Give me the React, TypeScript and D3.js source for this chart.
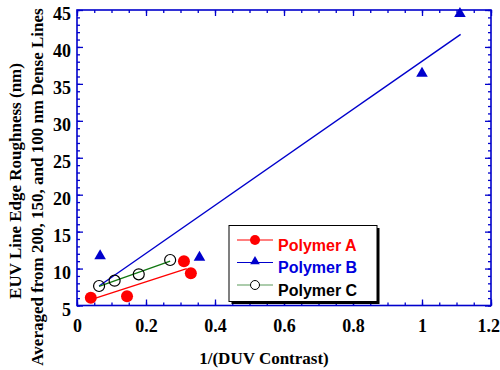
import React, { useRef, useEffect } from "react";
import * as d3 from "d3";

// values
const polymerAX = [0.04, 0.145, 0.31, 0.33];
const polymerAY = [6.06, 6.25, 11.0, 9.35];
const fitAX = [0.047, 0.318];
const fitAY = [5.9, 10.0];

const polymerBX = [0.067, 0.355, 1.0, 1.11];
const polymerBY = [11.7, 11.5, 36.4, 44.5];
const fitBX = [0.064, 1.112];
const fitBY = [7.64, 41.7];

const polymerCX = [0.064, 0.109, 0.179, 0.27];
const polymerCY = [7.64, 8.36, 9.22, 11.16];
const fitCX = [0.064, 0.27];
const fitCY = [7.6, 11.0];

const xTicks = [0, 0.2, 0.4, 0.6, 0.8, 1, 1.2];
const yTicks = [5, 10, 15, 20, 25, 30, 35, 40, 45];
const legendLabels = ["Polymer A", "Polymer B", "Polymer C"];

const AXIS_BLUE = "#0000cc";
const RED = "#ff0000";
const BLUE = "#0000cc";
const GREEN = "#117711";

const serif = "'Liberation Serif', 'Times New Roman', serif";
const sans = "'Liberation Sans', Arial, Helvetica, sans-serif";

const zip = (xs: number[], ys: number[]) => xs.map((x, i) => [x, ys[i]]);

const Chart = () => {
  const ref = useRef<SVGSVGElement>(null);

  useEffect(() => {
    const svg = d3.select(ref.current);
    svg.selectAll("*").remove();

    const W = 500;
    const H = 370;
    const left = 77;
    const right = 491;
    const top = 10;
    const bottom = 305.5;

    svg.attr("width", W).attr("height", H);

    const x = d3.scaleLinear().domain([0, 1.2]).range([left, right]);
    const y = d3.scaleLinear().domain([5, 45]).range([bottom, top]);

    const xMinor = d3.range(0, 1.2001, 0.05);
    const yMinor = d3.range(5, 45.001, 1);

    const styleAxis = (g: any) => {
      g.select(".domain").remove();
      g.selectAll("line").attr("stroke", AXIS_BLUE).attr("stroke-width", 1.3);
      g.selectAll("text")
        .attr("font-family", serif)
        .attr("font-weight", "bold")
        .attr("font-size", 18)
        .attr("fill", "#000");
    };

    // bottom
    svg
      .append("g")
      .attr("transform", `translate(0,${bottom})`)
      .call(d3.axisBottom(x).tickValues(xMinor).tickSize(-3).tickFormat(() => ""))
      .call(styleAxis);
    svg
      .append("g")
      .attr("transform", `translate(0,${bottom})`)
      .call(
        d3
          .axisBottom(x)
          .tickValues(xTicks)
          .tickSize(-6)
          .tickPadding(14)
          .tickFormat((d: any) => String(d))
      )
      .call(styleAxis)
      .call((g: any) =>
        // keep the last label inside the picture
        g
          .selectAll("text")
          .filter((d: any) => d === 1.2)
          .attr("text-anchor", "end")
          .attr("x", 8.5)
      );
    // top
    svg
      .append("g")
      .attr("transform", `translate(0,${top})`)
      .call(d3.axisTop(x).tickValues(xMinor).tickSize(-3).tickFormat(() => ""))
      .call(styleAxis);
    svg
      .append("g")
      .attr("transform", `translate(0,${top})`)
      .call(d3.axisTop(x).tickValues(xTicks).tickSize(-6).tickFormat(() => ""))
      .call(styleAxis);
    // left
    svg
      .append("g")
      .attr("transform", `translate(${left},0)`)
      .call(d3.axisLeft(y).tickValues(yMinor).tickSize(-3).tickFormat(() => ""))
      .call(styleAxis);
    svg
      .append("g")
      .attr("transform", `translate(${left},0)`)
      .call(
        d3
          .axisLeft(y)
          .tickValues(yTicks)
          .tickSize(-6)
          .tickPadding(6)
          .tickFormat((d: any) => String(d))
      )
      .call(styleAxis)
      .call((g: any) => g.selectAll("text").attr("dy", "0.55em"));
    // right
    svg
      .append("g")
      .attr("transform", `translate(${right},0)`)
      .call(d3.axisRight(y).tickValues(yMinor).tickSize(-3).tickFormat(() => ""))
      .call(styleAxis);
    svg
      .append("g")
      .attr("transform", `translate(${right},0)`)
      .call(d3.axisRight(y).tickValues(yTicks).tickSize(-6).tickFormat(() => ""))
      .call(styleAxis);

    // frame
    svg
      .append("rect")
      .attr("x", left)
      .attr("y", top)
      .attr("width", right - left)
      .attr("height", bottom - top)
      .attr("fill", "none")
      .attr("stroke", AXIS_BLUE)
      .attr("stroke-width", 1.6);

    // axis titles
    svg
      .append("text")
      .attr("x", 264)
      .attr("y", 364)
      .attr("text-anchor", "middle")
      .attr("font-family", serif)
      .attr("font-weight", "bold")
      .attr("font-size", 17)
      .text("1/(DUV Contrast)");
    svg
      .append("text")
      .attr("transform", "translate(21,181) rotate(-90)")
      .attr("text-anchor", "middle")
      .attr("font-family", serif)
      .attr("font-weight", "bold")
      .attr("font-size", 17)
      .text("EUV Line Edge Roughness (nm)");
    svg
      .append("text")
      .attr("transform", "translate(43,187) rotate(-90)")
      .attr("text-anchor", "middle")
      .attr("font-family", serif)
      .attr("font-weight", "bold")
      .attr("font-size", 17)
      .text("Averaged from 200, 150, and 100 nm Dense Lines");

    const line = d3
      .line<number[]>()
      .x((d) => x(d[0]))
      .y((d) => y(d[1]));

    // fit lines
    [
      { pts: zip(fitAX, fitAY), color: RED },
      { pts: zip(fitBX, fitBY), color: BLUE },
      { pts: zip(fitCX, fitCY), color: GREEN },
    ].forEach((f) => {
      svg
        .append("path")
        .attr("d", line(f.pts as any))
        .attr("fill", "none")
        .attr("stroke", f.color)
        .attr("stroke-width", 1.4);
    });

    const tri = d3.symbol().type(d3.symbolTriangle);

    // markers
    svg
      .selectAll(".ptA")
      .data(zip(polymerAX, polymerAY))
      .enter()
      .append("circle")
      .attr("cx", (d) => x(d[0]))
      .attr("cy", (d) => y(d[1]))
      .attr("r", 6)
      .attr("fill", RED);
    svg
      .selectAll(".ptB")
      .data(zip(polymerBX, polymerBY))
      .enter()
      .append("path")
      .attr("d", tri.size(58)() as string)
      .attr("transform", (d) => `translate(${x(d[0])},${y(d[1])})`)
      .attr("fill", BLUE);
    svg
      .selectAll(".ptC")
      .data(zip(polymerCX, polymerCY))
      .enter()
      .append("circle")
      .attr("cx", (d) => x(d[0]))
      .attr("cy", (d) => y(d[1]))
      .attr("r", 5.5)
      .attr("fill", "none")
      .attr("stroke", "#000")
      .attr("stroke-width", 1.2);

    // legend
    const lg = svg.append("g");
    lg.append("rect")
      .attr("x", 231.5)
      .attr("y", 228)
      .attr("width", 148)
      .attr("height", 76)
      .attr("fill", "#000");
    lg.append("rect")
      .attr("x", 229)
      .attr("y", 225.5)
      .attr("width", 148)
      .attr("height", 76)
      .attr("fill", "#fff")
      .attr("stroke", "#000")
      .attr("stroke-width", 1);

    const legendColors = [RED, BLUE, "#5a9a5a"];
    const textColors = [RED, "#0000dd", "#000"];
    const rowY = [240, 262.5, 285];
    legendLabels.forEach((label, i) => {
      const yy = rowY[i];
      lg.append("line")
        .attr("x1", 237)
        .attr("x2", 273)
        .attr("y1", yy)
        .attr("y2", yy)
        .attr("stroke", legendColors[i])
        .attr("stroke-width", 1.2);
      if (i === 0) {
        lg.append("circle").attr("cx", 255).attr("cy", yy).attr("r", 5).attr("fill", RED);
      } else if (i === 1) {
        lg.append("path")
          .attr("d", tri.size(40)() as string)
          .attr("transform", `translate(255,${yy - 1})`)
          .attr("fill", BLUE);
      } else {
        lg.append("circle")
          .attr("cx", 255)
          .attr("cy", yy)
          .attr("r", 4.5)
          .attr("fill", "#fff")
          .attr("stroke", "#000")
          .attr("stroke-width", 1);
      }
      lg.append("text")
        .attr("x", 278)
        .attr("y", yy + 10.5)
        .attr("font-family", sans)
        .attr("font-weight", "bold")
        .attr("font-size", 16)
        .attr("fill", textColors[i])
        .text(label);
    });
  }, []);

  return (
    <svg
      ref={ref}
      style={{ display: "block", position: "absolute", left: 0, top: 0 }}
    />
  );
};

export default function App() {
  return <Chart />;
}
